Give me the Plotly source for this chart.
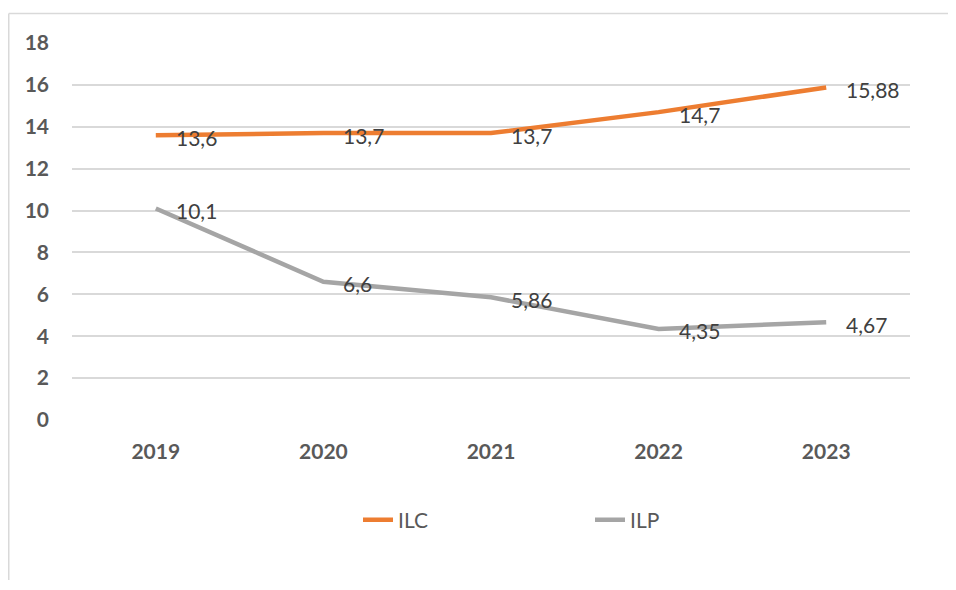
import plotly.graph_objects as go

years = ["2019", "2020", "2021", "2022", "2023"]
ilc = [13.6, 13.7, 13.7, 14.7, 15.88]
ilp = [10.1, 6.6, 5.86, 4.35, 4.67]
y_ticks = [0, 2, 4, 6, 8, 10, 12, 14, 16, 18]

def fmt(v):
    return f"{v}".replace(".", ",")

# page has an 8px body margin: figure starts at page x 8, y 8
OFF = 8
W, H = 956 - OFF, 590 - 2 * OFF - 2
L, R, T, B = 72 - OFF, 910 - OFF, 43 - OFF, 420 - OFF

def px_x(p):
    return (p - OFF - L) / (R - L)

def px_y(p):
    return (B - (p - OFF)) / (B - T)

fig = go.Figure()
series = [("ILC", ilc, "#ED7D31"), ("ILP", ilp, "#A5A5A5")]
for name, vals, col in series:
    fig.add_trace(go.Scatter(x=years, y=vals, name=name, mode="lines",
                             line=dict(color=col, width=4.5)))
    for i, yv in enumerate(vals):
        fig.add_annotation(x=i, y=yv, xref="x", yref="y", text=fmt(yv), showarrow=False,
                           xanchor="left", yanchor="middle", xshift=18, yshift=-2,
                           font=dict(size=21, color="#404040", family="Lato"))

# outer chart frame (left and top visible)
fig.add_shape(type="line", xref="paper", yref="paper",
              x0=px_x(8.75), x1=px_x(8.75), y0=px_y(13.5), y1=px_y(600),
              line=dict(color="#D9D9D9", width=1.5))
fig.add_shape(type="line", xref="paper", yref="paper",
              x0=px_x(8.75), x1=px_x(970), y0=px_y(13.5), y1=px_y(13.5),
              line=dict(color="#D9D9D9", width=1.5))

fig.update_layout(
    width=W, height=H,
    margin=dict(l=L, r=W - R, t=T, b=H - B),
    paper_bgcolor="white", plot_bgcolor="white",
    font=dict(family="Lato", color="#595959"),
    showlegend=True,
    legend=dict(orientation="h", x=px_x(358), xanchor="left",
                y=px_y(520), yanchor="middle",
                font=dict(size=21, color="#595959", family="Lato"),
                entrywidth=187, entrywidthmode="pixels"),
    xaxis=dict(type="category", range=[-0.5, 4.5], showgrid=False, showline=False,
               zeroline=False, ticks="",
               tickfont=dict(size=21, color="#595959", family="Lato", weight="bold"),
               ticklabelstandoff=17),
    yaxis=dict(range=[0, 18], tickvals=y_ticks, showgrid=True,
               gridcolor="#D9D9D9", gridwidth=1.5, zeroline=False, showline=False,
               ticks="",
               tickfont=dict(size=21, color="#595959", family="Lato", weight="bold"),
               ticklabelstandoff=22),
)

fig.write_html("out.html")
